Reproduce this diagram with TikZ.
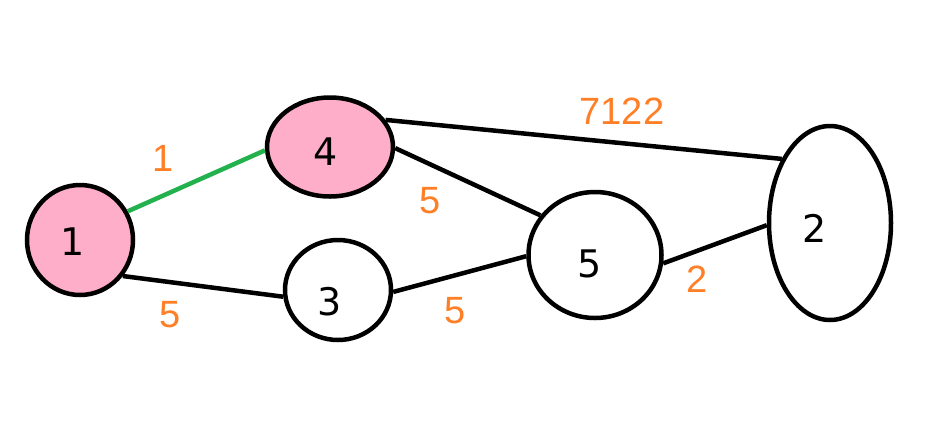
\documentclass[tikz,border=0pt]{standalone}
\usepackage{fontspec}
\setmainfont{DejaVu Sans}
\newfontfamily\wtfont{Liberation Sans}
\usepackage{xcolor}
\definecolor{vpink}{RGB}{255,174,201}
\definecolor{vgreen}{RGB}{34,177,76}
\definecolor{wtorange}{RGB}{255,127,39}
\usetikzlibrary{shapes.geometric}

\begin{document}
\begin{tikzpicture}[x=1pt, y=-1pt,
    vert/.style={ellipse, draw=black, line width=4.5pt, inner sep=0pt},
    num/.style={font=\fontsize{38}{42}\selectfont, text=black, inner sep=0pt},
    wt/.style={font=\wtfont\fontsize{38}{42}\selectfont, text=wtorange, inner sep=0pt},
    edge/.style={line width=4.5pt, black}]
  % Поле малюнка
  \useasboundingbox (0,0) rectangle (940,440);

  % Вершини графа
  \node[vert, fill=vpink, minimum width=106pt, minimum height=110pt] (n1) at (80,240) {};
  \node[vert, fill=vpink, minimum width=126pt, minimum height=99pt] (n4) at (330,147) {};
  \node[vert, fill=white, minimum width=106pt, minimum height=100pt] (n3) at (338,290) {};
  \node[vert, fill=white, minimum width=133pt, minimum height=126pt] (n5) at (595,255) {};
  \node[vert, fill=white, minimum width=122pt, minimum height=194pt] (n2) at (830,223) {};

  % Номери вершин
  \node[num] (t1) at (73,242) {1};
  \node[num] (t4) at (326,152) {4};
  \node[num] (t3) at (330,302) {3};
  \node[num] (t5) at (590,264) {5};
  \node[num] (t2) at (815,228) {2};

  % Ребра (1--4 виділене зеленим)
  \draw[edge, vgreen] (n1.31) -- (n4.183.5);
  \draw[edge] (n1.-40) -- (n3.187);
  \draw[edge] (n3.-2) -- (n5.181);
  \draw[edge] (n4.-1) -- (n5.144);
  \draw[edge] (n4.26) -- (n2.127);
  \draw[edge] (n5.-7) -- (n2.182);

  % Ваги ребер
  \node[wt] (w14) at (163,158) {1};
  \node[wt] (w13) at (170,315) {5};
  \node[wt] (w35) at (455,311) {5};
  \node[wt] (w45) at (430,201) {5};
  \node[wt] (w42) at (622,111) {7122};
  \node[wt] (w52) at (697,279) {2};
\end{tikzpicture}
\end{document}
